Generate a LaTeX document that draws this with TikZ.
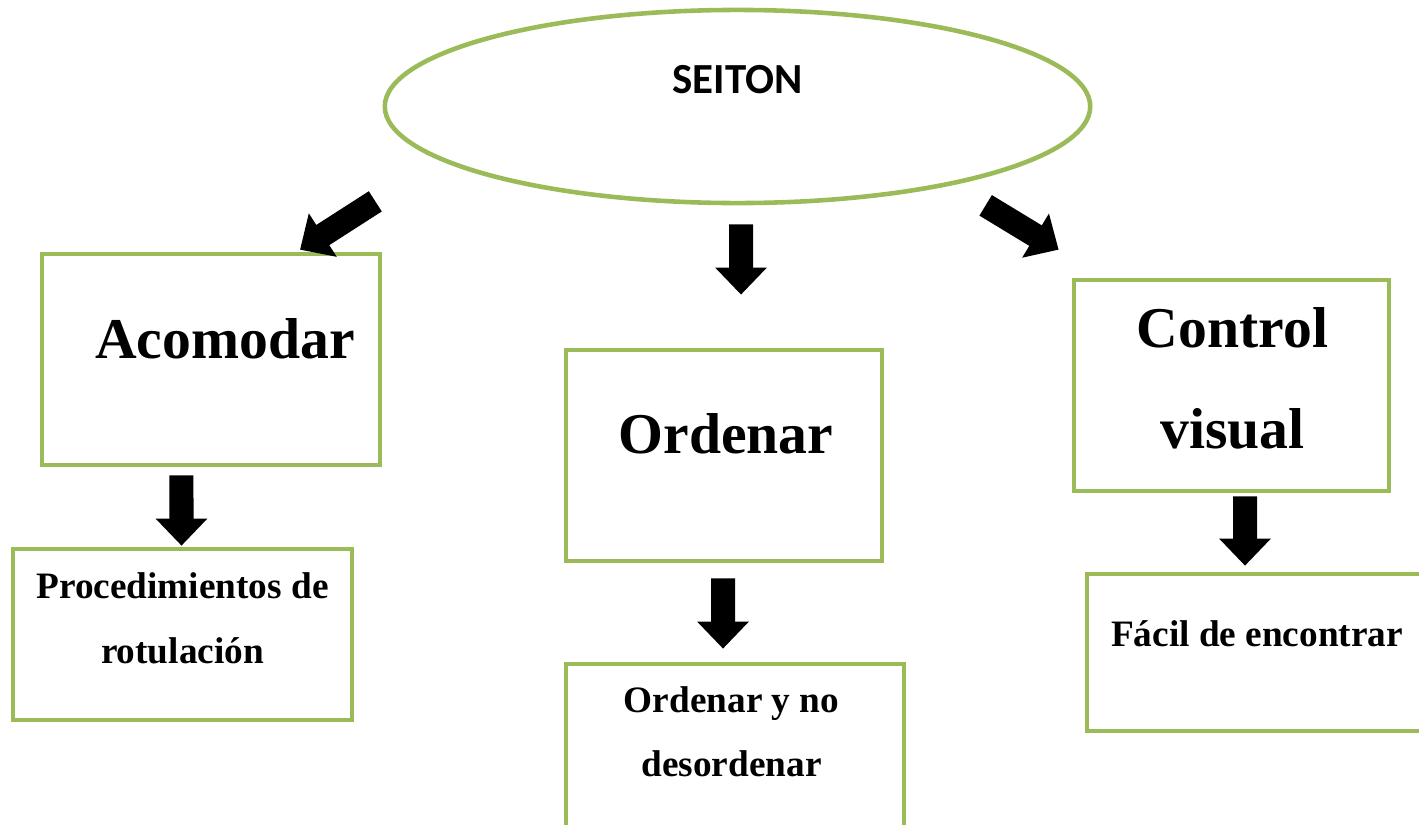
\documentclass[tikz,border=0pt]{standalone}
\usepackage{fontspec}
\setmainfont{Liberation Serif}
\newfontfamily\calibrifont{Carlito}
\usepackage{xcolor}
\usetikzlibrary{shapes.geometric, arrows.meta, positioning}
\definecolor{olivegreen}{HTML}{9BBB59}

\begin{document}
\begin{tikzpicture}[x=0.01cm, y=-0.01cm,
    box/.style={draw=olivegreen, line width=1.3pt, rectangle, inner sep=0pt},
    bigtext/.style={font=\fontsize{16.4}{28.7}\selectfont\bfseries, align=center},
    smalltext/.style={font=\fontsize{10.6}{18.4}\selectfont\bfseries, align=center},
    blockarrow/.style={line width=0.24cm, -{Triangle[length=0.27cm, width=0.5cm]}}]
    \useasboundingbox (0,0) rectangle (1419,824);
    \clip (0,0) rectangle (1419,824);
    % top ellipse
    \node (seiton) [ellipse, draw=olivegreen, line width=1.3pt, minimum width=7.05cm, minimum height=1.93cm] at (737.5,106.5) {};
    \node (seitontxt) [font=\calibrifont\fontsize{12.2}{14}\selectfont\bfseries] at ([yshift=0.265cm]seiton.center) {SEITON};
    % second row
    \node (acomodar) [box, minimum width=3.38cm, minimum height=2.11cm] at (211,359.5) {};
    \node (acomodartxt) [bigtext] at ([xshift=0.14cm,yshift=0.21cm]acomodar.center) {Acomodar};
    \node (ordenar) [box, minimum width=3.16cm, minimum height=2.11cm] at (724,455.5) {};
    \node (ordenartxt) [bigtext] at ([xshift=0.02cm,yshift=0.22cm]ordenar.center) {Ordenar};
    \node (control) [box, minimum width=3.15cm, minimum height=2.11cm] at (1231.5,385.5) {};
    \node (controltxt) [bigtext] at ([xshift=0.01cm,yshift=0.075cm]control.center) {Control\\visual};
    % third row
    \node (proced) [box, minimum width=3.39cm, minimum height=1.71cm] at (182.5,634.5) {};
    \node (procedtxt) [smalltext] at ([yshift=0.165cm]proced.center) {Procedimientos de\\rotulación};
    \node (ordenarno) [box, minimum width=3.38cm, minimum height=2.36cm] at (735,782) {};
    \node (ordenarnotxt) [smalltext] at ([xshift=-0.035cm,yshift=0.503cm]ordenarno.center) {Ordenar y no\\desordenar};
    \node (facil) [box, minimum width=3.53cm, minimum height=1.57cm] at (1263.5,652.5) {};
    \node (faciltxt) [smalltext] at ([xshift=-0.065cm,yshift=0.185cm]facil.center) {Fácil de encontrar};
    % block arrows
    \draw[blockarrow] ([xshift=-3.62cm,yshift=0.04cm]seiton.south) -- ([xshift=0.89cm,yshift=0.02cm]acomodar.north);
    \draw[blockarrow] ([xshift=0.035cm,yshift=-0.19cm]seiton.south) -- ([xshift=0.17cm,yshift=0.53cm]ordenar.north);
    \draw[blockarrow] ([xshift=2.48cm]seiton.south) -- ([xshift=-0.13cm,yshift=0.28cm]control.north west);
    \draw[blockarrow] ([xshift=-0.295cm,yshift=-0.08cm]acomodar.south) -- ([xshift=-0.01cm,yshift=0.01cm]proced.north);
    \draw[blockarrow] ([xshift=-0.01cm,yshift=-0.15cm]ordenar.south) -- ([xshift=-0.12cm,yshift=0.13cm]ordenarno.north);
    \draw[blockarrow] ([xshift=0.135cm,yshift=-0.03cm]control.south) -- ([xshift=-0.185cm,yshift=0.06cm]facil.north);
\end{tikzpicture}
\end{document}
